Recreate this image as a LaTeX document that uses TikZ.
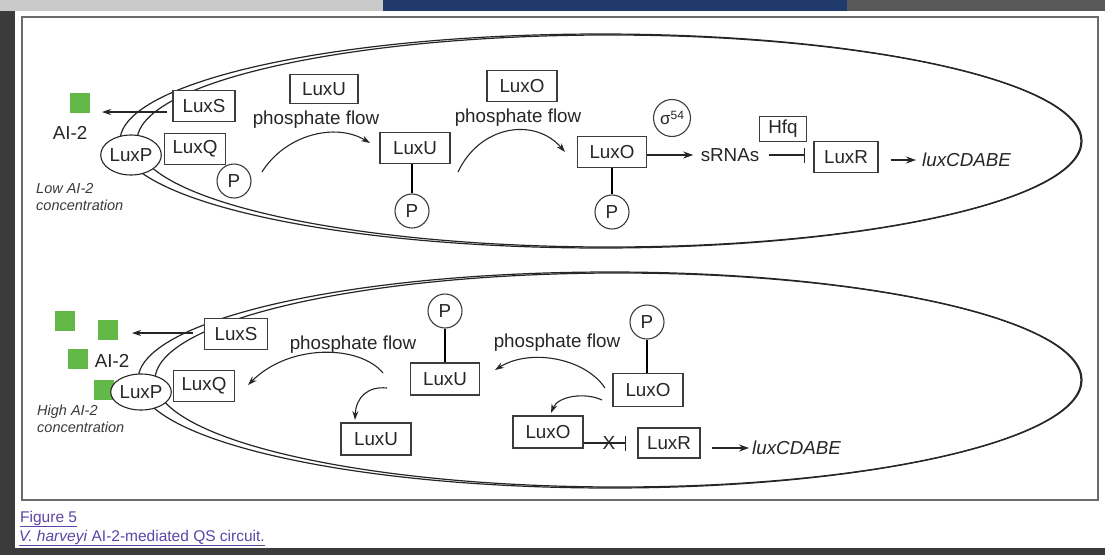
\documentclass[tikz,border=0pt]{standalone}
\usepackage{fontspec}
\setmainfont{Liberation Sans}
\usetikzlibrary{arrows.meta,calc,shapes.geometric}
\definecolor{ink}{HTML}{262626}
\definecolor{boxline}{HTML}{3C3C3C}
\definecolor{aigreen}{RGB}{98,185,72}
\definecolor{notegray}{HTML}{3A3A3A}
\definecolor{linkpurple}{RGB}{92,70,168}
\definecolor{pagedark}{HTML}{3B3B3B}
\definecolor{pagelight}{HTML}{C9C9C9}
\definecolor{pagenavy}{HTML}{203A6C}
\definecolor{framegray}{HTML}{6A6A6A}
\begin{document}
\begin{tikzpicture}[x=1pt,y=-1pt,
  lbl/.style={font=\fontsize{18.8}{22}\selectfont, text=ink},
  pbox/.style={lbl, draw=boxline, fill=white, line width=1.1pt, inner sep=0pt, minimum height=31pt},
  phos/.style={lbl, circle, draw=boxline, fill=white, line width=1.1pt, minimum size=34pt, inner sep=0pt},
  rcpt/.style={lbl, ellipse, draw=ink, fill=white, line width=1.1pt, inner sep=0pt},
  ai/.style={fill=aigreen, minimum size=20.5pt, inner sep=0pt},
  note/.style={font=\fontsize{14.5}{16.5}\selectfont\itshape, text=notegray, align=left, inner sep=0pt},
  flow/.style={draw=ink, line width=1.1pt, -{Stealth[length=9pt,width=6pt]}},
  sigarrow/.style={draw=ink, line width=1.1pt, -{Stealth[length=10pt,width=7pt]}},
  inhib/.style={draw=ink, line width=1.1pt, -{Bar[width=15pt,line width=1.2pt]}},
  membrane/.style={draw=ink, line width=1.2pt},
  caption/.style={font=\fontsize{15.5}{18}\selectfont, text=linkpurple, anchor=base west, inner sep=0pt}
]
\useasboundingbox (0,0) rectangle (1105,555);

% page behind the figure window
\fill[pagedark] (0,0) rectangle (1105,555);
\fill[pagelight] (0,0) rectangle (383,11);
\fill[pagenavy] (383,0) rectangle (847,11);
\fill[black!65] (847,0) rectangle (1105,11);
\fill[white] (15,11) rectangle (1105,548);
\draw[framegray, line width=1.1pt] (22,17) rectangle (1098,500);

% ---------------- low AI-2 cell ----------------
\draw[membrane] (601,141) ellipse [x radius=481pt, y radius=107pt];
\draw[membrane] (609,141) ellipse [x radius=472pt, y radius=106pt];

\node[ai] (sqA) at (80,103) {};
\node[lbl] (aiA) at (70,133) {AI-2};
\node[rcpt, minimum width=53pt, minimum height=40pt] (lpA) at (131,155) {LuxP};
\node[pbox, minimum width=62pt] (lsA) at (204,106) {LuxS};
\node[pbox, minimum width=61pt] (lqA) at (195,149) {LuxQ};
\node[phos] (pA1) at (234,181) {P};
\node[note, anchor=west] (lowA) at (36,197) {Low AI-2\\concentration};

\node[pbox, minimum width=68pt, minimum height=29pt] (luTop) at (324,89) {LuxU};
\node[lbl] (pfA1) at (316,120) {phosphate flow};
\node[pbox, minimum width=70pt] (luA) at (415,148) {LuxU};
\node[phos] (pA2) at (412,211) {P};

\node[pbox, minimum width=70pt] (loTop) at (522,86) {LuxO};
\node[lbl] (pfA2) at (518,118) {phosphate flow};
\node[pbox, minimum width=69pt] (loA) at (612,152) {LuxO};
\node[phos] (pA3) at (612,212) {P};

\node[lbl, circle, draw=boxline, line width=1.1pt, minimum size=37pt, inner sep=0pt,
      font=\fontsize{17}{20}\selectfont] (sig) at (672,118) {σ\raisebox{5pt}{\fontsize{12}{14}\selectfont 54}};
\node[lbl] (srna) at (730,155) {sRNAs};
\node[pbox, minimum width=47pt, minimum height=25pt] (hfq) at (783,129) {Hfq};
\node[pbox, minimum width=64pt] (lrA) at (846,157) {LuxR};
\node[lbl, anchor=west, inner sep=0pt, font=\fontsize{18.8}{22}\selectfont\itshape] (luxA) at (922,160) {luxCDABE};

\coordinate (lsAout) at (167,112);
\coordinate (aiAin) at (102,112);
\draw[flow] (lsAout) -- (aiAin);
\draw[line width=1.1pt] (pA2.north) -- (pA2.north |- luA.south);
\draw[line width=1.1pt] (pA3.north) -- (pA3.north |- loA.south);
\coordinate (fA1s) at (262,172);
\coordinate (fA1e) at (370,143);
\draw[flow] (fA1s) .. controls (285,135) and (335,122) .. (fA1e);
\coordinate (fA2s) at (458,172);
\coordinate (fA2e) at (565,152);
\draw[flow] (fA2s) .. controls (480,125) and (535,117) .. (fA2e);
\draw[sigarrow, shorten >=4pt] (loA.east |- srna.west) -- (srna.west);
\draw[inhib, shorten <=6pt, shorten >=8pt] (srna.east) -- (srna.east -| lrA.west);
\draw[sigarrow, shorten <=12pt, shorten >=6pt] (lrA.east |- luxA.west) -- (luxA.west);

% ---------------- high AI-2 cell ----------------
\draw[membrane] (610,380) ellipse [x radius=472pt, y radius=108pt];
\draw[membrane] (618,380) ellipse [x radius=463pt, y radius=107pt];

\node[ai] (sqB1) at (65,321) {};
\node[ai] (sqB2) at (108,330) {};
\node[ai] (sqB3) at (78,359) {};
\node[ai] (sqB4) at (104,390) {};
\node[lbl] (aiB) at (112,361) {AI-2};
\node[rcpt, minimum width=49pt, minimum height=36pt] (lpB) at (141,392) {LuxP};
\node[pbox, minimum width=63pt] (lsB) at (236,334) {LuxS};
\node[pbox, minimum width=61pt] (lqB) at (204,386) {LuxQ};
\node[note, anchor=west] (highB) at (37,419) {High AI-2\\concentration};

\node[lbl] (pfB1) at (353,345) {phosphate flow};
\node[pbox, minimum width=69pt, minimum height=32pt] (luB) at (445,379) {LuxU};
\node[phos] (pB1) at (445,311) {P};
\node[pbox, minimum width=70pt, minimum height=32pt] (luB2) at (376,439) {LuxU};

\node[lbl] (pfB2) at (557,343) {phosphate flow};
\node[pbox, minimum width=70pt, minimum height=33pt] (loB) at (648,390) {LuxO};
\node[phos] (pB2) at (647,322) {P};
\node[pbox, minimum width=70pt, minimum height=32pt] (loB2) at (548,432) {LuxO};
\node[pbox, minimum width=62pt, minimum height=30pt] (lrB) at (669,443) {LuxR};
\node[lbl, anchor=west, inner sep=0pt, font=\fontsize{18.8}{22}\selectfont\itshape] (luxB) at (752,448) {luxCDABE};

\coordinate (lsBout) at (193,333);
\coordinate (aiBin) at (132,333);
\draw[flow] (lsBout) -- (aiBin);
\draw[line width=1.1pt] (pB1.south) -- (pB1.south |- luB.north);
\draw[line width=1.1pt] (pB2.south) -- (pB2.south |- loB.north);
\coordinate (fB1s) at (383,373);
\coordinate (fB1e) at (248,385);
\draw[flow] (fB1s) .. controls (360,345) and (290,343) .. (fB1e);
\coordinate (fB2s) at (387,388);
\coordinate (fB2e) at (355,420);
\draw[flow] (fB2s) .. controls (368,386) and (356,397) .. (fB2e);
\coordinate (fB3s) at (605,388);
\coordinate (fB3e) at (495,370);
\draw[flow] (fB3s) .. controls (585,358) and (530,348) .. (fB3e);
\coordinate (fB4s) at (602,400);
\coordinate (fB4e) at (551,413);
\draw[flow] (fB4s) .. controls (585,392) and (558,396) .. (fB4e);
\draw[inhib, shorten >=11pt] (loB2.east |- lrB.west) -- (lrB.west);
\node[lbl, font=\fontsize{19}{22}\selectfont, inner sep=0pt] (xmark) at (609,443) {X};
\draw[sigarrow, shorten <=11pt, shorten >=3pt] (lrB.east |- luxB.west) -- (luxB.west);

% ---------------- caption ----------------
\node[caption] (figno) at (20,522) {\underline{Figure 5}};
\node[caption] (figtitle) at (19,541) {\underline{\textit{V. harveyi} AI-2-mediated QS circuit.}};
\end{tikzpicture}
\end{document}
